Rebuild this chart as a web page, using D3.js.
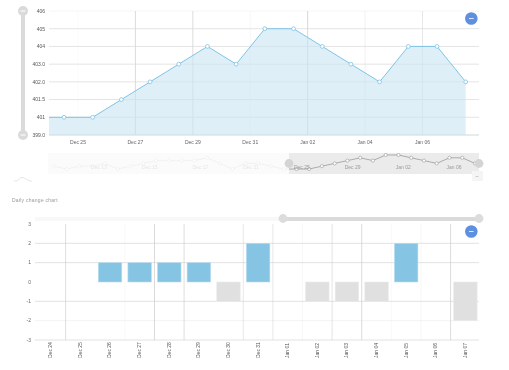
<!DOCTYPE html>
<html><head><meta charset="utf-8">
<script src="https://d3js.org/d3.v7.min.js"></script>
<style>
html,body{margin:0;padding:0;background:#fff}
svg{display:block;filter:blur(.35px)}
text{font-family:"Liberation Sans",Arial,sans-serif}
</style></head><body><svg id="c" width="509" height="370"></svg>
<script>
const dates=["Dec 25","Dec 26","Dec 27","Dec 28","Dec 29","Dec 30","Dec 31","Jan 01","Jan 02","Jan 03","Jan 04","Jan 05","Jan 06","Jan 07","Jan 08"];
const lineValues=[401,401,401.5,402,403,404,403,405,405,404,403,402,404,404,402];
const lineTicks=[399,401,401.5,402,403,404,405,406];
const lineTickLabels=["399.0","401","401.5","402.0","403.0","404","405","406"];
const axisDates=["Dec 25","Dec 27","Dec 29","Dec 31","Jan 02","Jan 04","Jan 06"];
const miniValues=[401.5,401,401.5,401.5,402,401,401.5,402,403,403,403,403,404,402,401,402,402,401.5,401,401,401,401.5,402,403,404,403,405,405,404,403,402,404,404,402];
const miniLabels=["Dec 13","Dec 15","Dec 17","Dec 21","Dec 25","Dec 29","Jan 02","Jan 06"];
const sparkValues=[0,0,1,3,3,2,1,0,0];
const barDates=["Dec 24","Dec 25","Dec 26","Dec 27","Dec 28","Dec 29","Dec 30","Dec 31","Jan 01","Jan 02","Jan 03","Jan 04","Jan 05","Jan 06","Jan 07"];
const barValues=[0,0,1,1,1,1,-1,2,0,-1,-1,-1,2,0,-2];
const barTicks=[-3,-2,-1,0,1,2,3];
const barTitle="Daily change chart";

const svg=d3.select("#c");
const G="#dadada",BLUE="#7fc3e4";

/* main area chart */
const x1=d3.scalePoint().domain(dates).range([64,465.7]);
const y1=d3.scalePoint().domain(lineTicks).range([135,11]);
const xLab=d3.scalePoint().domain(axisDates).range([78,422.5]);
const main=svg.append("g");
main.selectAll("line.h").data(lineTicks.slice(1)).join("line").attr("class","h")
 .attr("x1",49).attr("x2",479).attr("y1",y1).attr("y2",y1).attr("stroke",d=>d==406?"#f6f6f6":"#e4e4e4");
const vOpacity=[.1,.9,.9,.2,1,.35,.6];
main.selectAll("line.v").data(axisDates).join("line").attr("class","v")
 .attr("x1",xLab).attr("x2",xLab).attr("y1",11).attr("y2",135).attr("stroke","#d8d8d8")
 .attr("stroke-opacity",(d,i)=>vOpacity[i]);
const seq=lineValues.map((v,i)=>({x:x1(dates[i]),v}));
seq.unshift({x:49,v:lineValues[0]});
main.append("path").attr("d",d3.area().x(d=>d.x).y0(135).y1(d=>y1(d.v))(seq)).attr("fill","#cbe5f3").attr("fill-opacity",.62);
main.append("path").attr("d",d3.line().x(d=>d.x).y(d=>y1(d.v))(seq)).attr("fill","none").attr("stroke",BLUE);
main.selectAll("circle").data(lineValues).join("circle").attr("cx",(d,i)=>x1(dates[i])).attr("cy",y1).attr("r",1.9)
 .attr("fill","#fff").attr("stroke",BLUE).attr("stroke-width",.8);
main.append("line").attr("x1",49).attr("x2",479).attr("y1",135).attr("y2",135).attr("stroke","#cfd8dc");
main.selectAll("text.y").data(lineTicks).join("text").attr("class","y").attr("x",45).attr("y",d=>y1(d)+1.8)
 .attr("text-anchor","end").attr("font-size",5).attr("fill","#555").text((d,i)=>lineTickLabels[i]);
main.selectAll("text.x").data(axisDates).join("text").attr("class","x").attr("x",xLab).attr("y",144)
 .attr("text-anchor","middle").attr("font-size",5).attr("fill","#666").text(d=>d);

/* vertical slider */
main.append("rect").attr("x",21).attr("y",11).attr("width",4).attr("height",124).attr("fill",G);
[11,135].forEach(y=>{main.append("circle").attr("cx",23).attr("cy",y).attr("r",5).attr("fill",G);
 main.append("rect").attr("x",20.5).attr("y",y-.5).attr("width",5).attr("height",1).attr("fill","#fff");});
function zoomBtn(y){main.append("circle").attr("cx",471.3).attr("cy",y).attr("r",6.3).attr("fill","#5f8fdf");
 main.append("rect").attr("x",469).attr("y",y-.5).attr("width",4.6).attr("height",1).attr("fill","#dfe9fa");}
zoomBtn(18.5);zoomBtn(231.5);

/* navigator */
const mini=svg.append("g");
const xm=d3.scaleLinear().domain([0,miniValues.length-1]).range([54,475]);
const ym=d3.scalePoint().domain(lineTicks).range([171.8,152.2]);
const xml=d3.scalePoint().domain(miniLabels).range([99,454]);
mini.append("rect").attr("x",48).attr("y",153).attr("width",241).attr("height",21).attr("fill","#fbfbfb");
mini.append("rect").attr("x",289).attr("y",153).attr("width",190).attr("height",21).attr("fill","#ebebeb");
mini.append("clipPath").attr("id","cR").append("rect").attr("x",289).attr("y",150).attr("width",190).attr("height",24);
const miniLine=d3.line().x((d,i)=>xm(i)).y(d=>ym(d))(miniValues);
mini.append("path").attr("d",miniLine).attr("fill","none").attr("stroke","#efefef").attr("stroke-width",.8);
mini.append("path").attr("clip-path","url(#cR)").attr("d",miniLine).attr("fill","none").attr("stroke","#999").attr("stroke-width",.8);
mini.selectAll("circle").data(miniValues).join("circle").attr("cx",(d,i)=>xm(i)).attr("cy",ym).attr("r",1.6)
 .attr("fill",(d,i)=>xm(i)>289?"#fff":"#fdfdfd").attr("stroke",(d,i)=>xm(i)>289?"#999":"#eee").attr("stroke-width",.6);
mini.selectAll("text").data(miniLabels).join("text").attr("x",xml).attr("y",169)
 .attr("text-anchor","middle").attr("font-size",5).attr("fill",(d,i)=>i<4?"#e6e6e6":"#999").text(d=>d);
[289,479].forEach(x=>mini.append("circle").attr("cx",x).attr("cy",163.5).attr("r",4.4).attr("fill","#d4d4d4"));
mini.append("rect").attr("x",472).attr("y",171).attr("width",11).attr("height",10).attr("fill","#f5f5f5");
mini.append("rect").attr("x",475.5).attr("y",176).attr("width",3).attr("height",.7).attr("fill","#bbb");
const xs=d3.scaleLinear().domain([0,sparkValues.length-1]).range([14,32]);
const ys=d3.scaleLinear().domain([0,3]).range([181,177.5]);
mini.append("path").attr("d",d3.line().x((d,i)=>xs(i)).y(ys)(sparkValues)).attr("fill","none").attr("stroke","#d4d4d4").attr("stroke-width",.6);

/* title */
svg.append("text").attr("x",12).attr("y",202).attr("font-size",5).attr("letter-spacing",.25).attr("fill","#999").text(barTitle);

/* horizontal slider */
svg.append("rect").attr("x",35).attr("y",217).attr("width",248).attr("height",4).attr("fill","#f8f8f8");
svg.append("rect").attr("x",283).attr("y",217).attr("width",196).attr("height",4).attr("fill",G);
[283,479].forEach(x=>svg.append("circle").attr("cx",x).attr("cy",218.5).attr("r",4.4).attr("fill","#dcdcdc"));

/* bar chart */
const x2=d3.scaleBand().domain(barDates).range([36.1,480.1]).paddingInner(.205).paddingOuter(.1);
const step2=x2.step();
const y2=d3.scaleLinear().domain([-3,3]).range([340,224]);
const bars=svg.append("g");
bars.selectAll("line.h").data(barTicks.filter(d=>d!=0&&d!=3)).join("line").attr("class","h")
 .attr("x1",35).attr("x2",479).attr("y1",y2).attr("y2",y2).attr("stroke",d=>d==-2?"#f3f3f3":"#e2e2e2");
const edge=i=>x2(barDates[i])+x2.bandwidth()/2+step2/2;
const edgeOp=[.65,0,.1,.75,.65,0,.45,.45,.15,.5,.7,.12,.15,.7];
bars.selectAll("line.v").data(edgeOp).join("line").attr("class","v")
 .attr("x1",(d,i)=>edge(i)).attr("x2",(d,i)=>edge(i)).attr("y1",224).attr("y2",340).attr("stroke","#ccc").attr("stroke-opacity",d=>d);
bars.selectAll("rect").data(barValues).join("rect")
 .attr("x",(d,i)=>x2(barDates[i])).attr("width",x2.bandwidth())
 .attr("y",d=>d>0?y2(d):y2(0)).attr("height",d=>Math.abs(y2(d)-y2(0)))
 .attr("fill",d=>d>0?"#85c4e3":"#e0e0e0").attr("stroke",d=>d>0?"#bcdef0":"#ececec").attr("stroke-width",.6);
bars.selectAll("text.y").data(barTicks).join("text").attr("class","y").attr("x",31).attr("y",d=>y2(d)+1.8)
 .attr("text-anchor","end").attr("font-size",5).attr("fill","#666").text(d=>d);
bars.selectAll("text.x").data(barDates).join("text").attr("class","x")
 .attr("transform",d=>`translate(${x2(d)+x2.bandwidth()/2+1.4},358) rotate(-90)`)
 .attr("font-size",5).attr("fill","#555").text(d=>d);
</script></body></html>
